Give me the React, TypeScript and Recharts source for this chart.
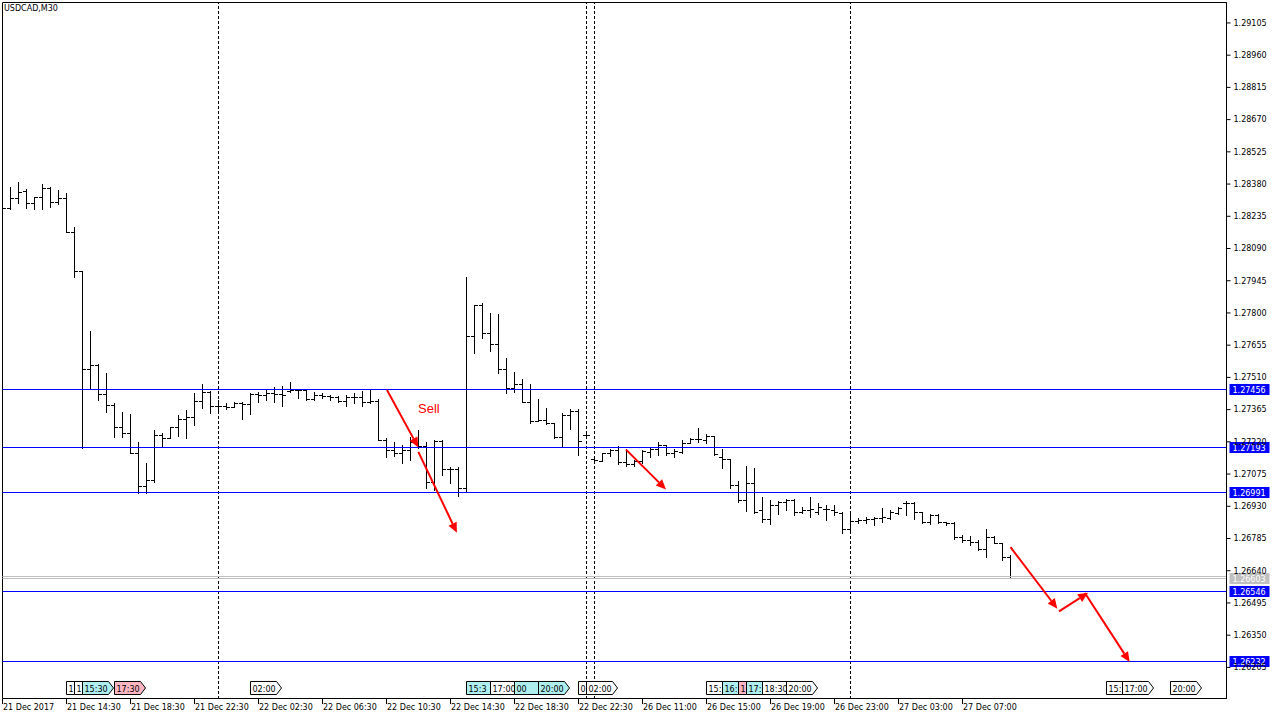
import React from "react";
import { ComposedChart, Bar, XAxis, YAxis, ReferenceLine, ReferenceDot, ReferenceArea } from "recharts";

// USDCAD M30 bars, one entry per bar (index 0 = 21 Dec 10:30)
const OPEN = [
  1.28275, 1.28272, 1.28314, 1.28345, 1.28293, 1.28319, 1.28362, 1.28296, 1.28316, 1.28164,
  1.27987, 1.27545, 1.27564, 1.27432, 1.27384, 1.27286, 1.27257, 1.27169, 1.2702, 1.27047,
  1.27249, 1.27237, 1.27284, 1.2732, 1.27331, 1.27403, 1.27444, 1.27381, 1.2738, 1.27375,
  1.27392, 1.27387, 1.27432, 1.27429, 1.27439, 1.27434, 1.27446, 1.27452, 1.27449, 1.2741,
  1.27429, 1.27425, 1.27419, 1.27403, 1.27421, 1.27418, 1.27399, 1.27403, 1.27227, 1.27182,
  1.27167, 1.27182, 1.27219, 1.272, 1.27036, 1.27222, 1.27095, 1.27095, 1.27009, 1.27696,
  1.27834, 1.27709, 1.27657, 1.27545, 1.27459, 1.27477, 1.27399, 1.27312, 1.27316, 1.27302,
  1.27239, 1.27339, 1.27358, 1.27249, 1.27141, 1.27133, 1.27167, 1.27182, 1.27129, 1.27117,
  1.27133, 1.27174, 1.27185, 1.27204, 1.27167, 1.27174, 1.27212, 1.2723, 1.27227, 1.27245,
  1.2715, 1.2714, 1.27024, 1.26957, 1.27034, 1.26912, 1.2687, 1.26934, 1.26949, 1.26957,
  1.26904, 1.26912, 1.26904, 1.26915, 1.26912, 1.26897, 1.26825, 1.26862, 1.26867, 1.26871,
  1.26874, 1.26874, 1.26899, 1.26944, 1.26944, 1.26904, 1.26859, 1.26889, 1.26859, 1.26854,
  1.26789, 1.26776, 1.26769, 1.26735, 1.26789, 1.26764, 1.26701,
];
const HIGH = [
  1.28289, 1.28366, 1.28388, 1.28355, 1.28321, 1.28377, 1.28366, 1.28351, 1.28337, 1.28184,
  1.27987, 1.27717, 1.27567, 1.27527, 1.27392, 1.27351, 1.27342, 1.27219, 1.27122, 1.27272,
  1.27257, 1.27286, 1.27339, 1.27362, 1.27437, 1.27479, 1.27448, 1.27407, 1.27393, 1.27399,
  1.27396, 1.27437, 1.27444, 1.27456, 1.27466, 1.2747, 1.27486, 1.27455, 1.27452, 1.27444,
  1.27437, 1.27429, 1.27425, 1.27429, 1.27437, 1.27448, 1.27455, 1.2741, 1.27234, 1.27219,
  1.27204, 1.27241, 1.27272, 1.27219, 1.27227, 1.27227, 1.27106, 1.27106, 1.27961, 1.27834,
  1.27842, 1.27797, 1.27794, 1.27594, 1.27531, 1.27501, 1.27479, 1.2741, 1.27369, 1.27304,
  1.27347, 1.27365, 1.27365, 1.27262, 1.27155, 1.27167, 1.27185, 1.272, 1.27185, 1.27137,
  1.27182, 1.27196, 1.27216, 1.27204, 1.27185, 1.27227, 1.27234, 1.27279, 1.27253, 1.27245,
  1.27186, 1.2714, 1.27043, 1.2711, 1.271, 1.26969, 1.26957, 1.26953, 1.2696, 1.2696,
  1.26926, 1.26969, 1.26942, 1.26934, 1.26934, 1.26904, 1.26899, 1.26874, 1.26879, 1.26881,
  1.26919, 1.26912, 1.26926, 1.26953, 1.26949, 1.26904, 1.26894, 1.26894, 1.26859, 1.26856,
  1.26799, 1.26794, 1.26776, 1.26825, 1.26794, 1.26764, 1.26709,
];
const LOW = [
  1.28266, 1.28267, 1.28292, 1.28272, 1.28266, 1.28266, 1.28276, 1.28287, 1.28164, 1.27961,
  1.27189, 1.27455, 1.27407, 1.27354, 1.27241, 1.27241, 1.27167, 1.26989, 1.26989, 1.27039,
  1.272, 1.27234, 1.27245, 1.27237, 1.27294, 1.27369, 1.27349, 1.27362, 1.27366, 1.27374,
  1.2732, 1.27342, 1.27399, 1.27407, 1.27399, 1.2738, 1.27444, 1.27414, 1.27407, 1.27407,
  1.27414, 1.27407, 1.27399, 1.2738, 1.27392, 1.2738, 1.27392, 1.27227, 1.27149, 1.27154,
  1.27122, 1.27137, 1.27189, 1.27009, 1.27001, 1.27069, 1.27032, 1.26975, 1.26992, 1.27619,
  1.27687, 1.27628, 1.27527, 1.27439, 1.27444, 1.27399, 1.27304, 1.2731, 1.27297, 1.27234,
  1.272, 1.27275, 1.27159, 1.2724, 1.27128, 1.27133, 1.27156, 1.27117, 1.27109, 1.27109,
  1.27122, 1.27151, 1.27159, 1.27159, 1.27151, 1.27169, 1.27212, 1.27219, 1.27212, 1.27159,
  1.27099, 1.27009, 1.26949, 1.26908, 1.26899, 1.26859, 1.26848, 1.26894, 1.26912, 1.26889,
  1.26897, 1.26881, 1.26894, 1.26867, 1.26889, 1.26809, 1.26814, 1.26852, 1.26854, 1.26844,
  1.26859, 1.2687, 1.26894, 1.26889, 1.2687, 1.26852, 1.26848, 1.26852, 1.26844, 1.2678,
  1.26769, 1.26754, 1.26731, 1.26699, 1.26762, 1.26686, 1.26603,
];
const CLOSE = [
  1.28272, 1.28314, 1.28341, 1.28293, 1.28319, 1.28362, 1.28296, 1.28316, 1.28164, 1.27987,
  1.27545, 1.27564, 1.27432, 1.27384, 1.27286, 1.27257, 1.27169, 1.2702, 1.27047, 1.27249,
  1.27237, 1.27284, 1.2732, 1.27331, 1.27403, 1.27444, 1.27381, 1.2738, 1.27375, 1.27392,
  1.27387, 1.27432, 1.27429, 1.27439, 1.27434, 1.2743, 1.27452, 1.27449, 1.2741, 1.27429,
  1.27425, 1.27419, 1.27403, 1.27421, 1.27418, 1.27399, 1.27403, 1.27227, 1.27182, 1.27167,
  1.27182, 1.27219, 1.272, 1.27036, 1.27222, 1.27095, 1.27095, 1.27009, 1.27696, 1.27834,
  1.27709, 1.27657, 1.27545, 1.27459, 1.27477, 1.27399, 1.27312, 1.27316, 1.27302, 1.27239,
  1.27339, 1.27358, 1.27222, 1.27249, 1.27137, 1.27167, 1.27182, 1.27129, 1.27117, 1.27133,
  1.27178, 1.27185, 1.27204, 1.27167, 1.27178, 1.27212, 1.2723, 1.2723, 1.27245, 1.27164,
  1.2714, 1.27024, 1.26957, 1.27034, 1.26904, 1.2687, 1.26934, 1.26949, 1.26957, 1.26904,
  1.26912, 1.26915, 1.26926, 1.26915, 1.26904, 1.26825, 1.26862, 1.26867, 1.26871, 1.26874,
  1.26881, 1.26904, 1.26919, 1.26944, 1.26904, 1.26859, 1.26889, 1.26859, 1.26854, 1.26789,
  1.26776, 1.26769, 1.26735, 1.26789, 1.26764, 1.26701, 1.26603,
];

const PRICE_TICKS = [
  1.29105, 1.2896, 1.28815, 1.2867, 1.28525, 1.2838, 1.28235, 1.2809, 1.27945, 1.278, 1.27655,
  1.2751, 1.27365, 1.2722, 1.27075, 1.2693, 1.26785, 1.2664, 1.26495, 1.2635, 1.26205,
];
const TIME_TICKS = [0, 8, 16, 24, 32, 40, 48, 56, 64, 72, 80, 88, 96, 104, 112, 120];
const TIME_LABELS = [
  "21 Dec 2017", "21 Dec 14:30", "21 Dec 18:30", "21 Dec 22:30", "22 Dec 02:30", "22 Dec 06:30",
  "22 Dec 10:30", "22 Dec 14:30", "22 Dec 18:30", "22 Dec 22:30", "26 Dec 11:00", "26 Dec 15:00",
  "26 Dec 19:00", "26 Dec 23:00", "27 Dec 03:00", "27 Dec 07:00",
];

const LEVELS = [1.27456, 1.27193, 1.26991, 1.26546, 1.26232];
const BID = 1.26603;
const ASK = 1.26615;
const SEPARATORS = [27, 73, 74, 106];

// calendar events along the bottom (bar index, visible text, colour kind), drawn in this order
const EVENT_BARS = [8, 9, 10, 14, 31, 58, 61, 64, 67, 72, 73, 88, 90, 92, 93, 95, 98, 138, 140, 146];
const EVENT_TEXTS = [
  "1", "1", "15:30", "17:30", "02:00", "15:3", "17:00", "00", "20:00", "0",
  "02:00", "15:", "16:", "1", "17:", "18:30", "20:00", "15:", "17:00", "20:00",
];
const EVENT_KINDS = [
  "low", "low", "mid", "high", "low", "mid", "low", "mid", "mid", "low",
  "low", "low", "mid", "high", "mid", "low", "low", "low", "low", "low",
];

// drawn arrows (bar index / price)
const ARROW_X1 = [48.06, 51.98, 77.94, 126.0, 132.06, 135.3];
const ARROW_Y1 = [1.27453, 1.27175, 1.27185, 1.26746, 1.26457, 1.2654];
const ARROW_X2 = [51.98, 56.8, 82.94, 131.85, 135.7, 140.9];
const ARROW_Y2 = [1.27195, 1.26811, 1.27006, 1.26469, 1.26541, 1.26229];

const SELL_X = 53.3;
const SELL_Y = 1.2737;

const X_DOMAIN = [0, 153];
const Y_DOMAIN = [1.26065, 1.29197];

const FONT = "'DejaVu Sans', sans-serif";
const EVENT_FILL: Record<string, string> = { low: "#ffffff", mid: "#afeeee", high: "#ffb6c1" };

const bars = OPEN.map((o, i) => ({ i, open: o, high: HIGH[i], low: LOW[i], close: CLOSE[i] }));

const snap = (v: number) => Math.floor(v) + 0.5;

function OhlcShape(props: any) {
  const { x, width, y, height, payload } = props;
  if (x == null || y == null) return null;
  const cx = snap(x + width / 2);
  const top = Math.min(y, y + height);
  const bot = Math.max(y, y + height);
  const span = payload.high - payload.low;
  const toY = (v: number) => (span > 0 ? top + ((payload.high - v) / span) * (bot - top) : top);
  const yo = snap(toY(payload.open));
  const yc = snap(toY(payload.close));
  return (
    <g shapeRendering="crispEdges" stroke="#000" strokeWidth={1}>
      <line x1={cx} y1={Math.floor(top)} x2={cx} y2={Math.floor(bot) + 1} />
      <line x1={cx - 3.5} y1={yo} x2={cx} y2={yo} />
      <line x1={cx} y1={yc} x2={cx + 3.5} y2={yc} />
    </g>
  );
}

function TimeTick(props: any) {
  const { x, y, payload } = props;
  const px = snap(x);
  const label = TIME_LABELS[TIME_TICKS.indexOf(payload.value)];
  return (
    <g>
      <line x1={px} y1={y} x2={px} y2={y + 5} stroke="#000" shapeRendering="crispEdges" />
      <text x={px + 0.5} y={y + 11} fontSize={8} fontFamily={FONT} fill="#000">
        {label}
      </text>
    </g>
  );
}

// horizontal level line, one pixel row tall
function hLine(color: string) {
  return (p: any) => {
    if (p.y1 == null) return null;
    const row = Math.floor(p.y1);
    const left = Math.min(p.x1, p.x2);
    return <rect x={left} y={row} width={Math.abs(p.x2 - p.x1)} height={1} fill={color} />;
  };
}

function priceTag(value: number, fill: string) {
  return (props: any) => {
    const vb = props.viewBox || {};
    const left = vb.x + vb.width + 3;
    const top = Math.floor(vb.y) - 5;
    return (
      <g>
        <rect x={left} y={top} width={40} height={11} fill={fill} />
        <text x={left + 3} y={top + 9} fontSize={8} fontFamily={FONT} fill="#fff">
          {value.toFixed(5)}
        </text>
      </g>
    );
  };
}

function eventShape(k: number) {
  return (p: any) => {
    if (p.x1 == null) return null;
    const px = snap(p.x1);
    const bottom = Math.floor(Math.max(p.y1, p.y2)) - 3.5;
    const top = bottom - 13;
    const w = 26;
    const mid = (top + bottom) / 2;
    return (
      <g>
        <path
          d={`M${px},${top} H${px + w} L${px + w + 5},${mid} L${px + w},${bottom} H${px} Z`}
          fill={EVENT_FILL[EVENT_KINDS[k]]}
          stroke="#000"
          strokeWidth={1}
        />
        <text x={px + 2} y={bottom - 3} fontSize={8} fontFamily={FONT} fill="#000">
          {EVENT_TEXTS[k]}
        </text>
      </g>
    );
  };
}

function ArrowShape(p: any) {
  const { x1, y1, x2, y2 } = p;
  if (x1 == null) return null;
  const dx = x2 - x1;
  const dy = y2 - y1;
  const len = Math.sqrt(dx * dx + dy * dy) || 1;
  const ux = dx / len;
  const uy = dy / len;
  const hl = 10;
  const hw = 4.5;
  const bx = x2 - ux * hl;
  const by = y2 - uy * hl;
  return (
    <g>
      <line x1={x1} y1={y1} x2={bx} y2={by} stroke="#ff0000" strokeWidth={2} />
      <polygon
        points={`${x2},${y2} ${bx - uy * hw},${by + ux * hw} ${bx + uy * hw},${by - ux * hw}`}
        fill="#ff0000"
      />
    </g>
  );
}

export default function App() {
  return (
    <div style={{ position: "absolute", left: 0, top: 0, width: 1280, height: 720, background: "#fff" }}>
      <ComposedChart
        width={1280}
        height={720}
        data={bars}
        margin={{ top: 2.5, right: 0, bottom: 0, left: 2.5 }}
      >
        <XAxis
          xAxisId="t"
          dataKey="i"
          type="number"
          domain={X_DOMAIN}
          allowDataOverflow
          ticks={TIME_TICKS}
          interval={0}
          height={21.5}
          tickSize={0}
          tickMargin={0}
          tickLine={false}
          axisLine={{ stroke: "#000" }}
          tick={<TimeTick />}
        />
        <YAxis
          yAxisId="p"
          orientation="right"
          type="number"
          domain={Y_DOMAIN}
          allowDataOverflow
          ticks={PRICE_TICKS}
          interval={0}
          width={53.5}
          tickSize={4}
          tickMargin={3}
          axisLine={{ stroke: "#000" }}
          tickLine={{ stroke: "#000" }}
          tick={{ fontSize: 8, fontFamily: FONT, fill: "#000" }}
          tickFormatter={(v: number) => v.toFixed(5)}
        />

        {/* chart frame */}
        <ReferenceArea
          xAxisId="t"
          yAxisId="p"
          x1={X_DOMAIN[0]}
          x2={X_DOMAIN[1]}
          y1={Y_DOMAIN[0]}
          y2={Y_DOMAIN[1]}
          fill="none"
          fillOpacity={0}
          stroke="#000"
          strokeOpacity={1}
          ifOverflow="visible"
        />

        {SEPARATORS.map((s) => (
          <ReferenceLine
            key={`sep${s}`}
            xAxisId="t"
            yAxisId="p"
            x={s}
            stroke="#000"
            strokeDasharray="3 2"
            shapeRendering="crispEdges"
          />
        ))}

        <Bar
          xAxisId="t"
          yAxisId="p"
          dataKey={(d: any) => [d.low, d.high]}
          barSize={1}
          shape={OhlcShape}
          isAnimationActive={false}
        />

        <ReferenceLine xAxisId="t" yAxisId="p" y={ASK} stroke="#c0c0c0" shape={hLine("#c0c0c0")} />
        <ReferenceLine
          xAxisId="t"
          yAxisId="p"
          y={BID}
          stroke="#c0c0c0"
          shape={hLine("#c0c0c0")}
          label={priceTag(BID, "#c0c0c0")}
        />
        {LEVELS.map((v) => (
          <ReferenceLine
            key={`lvl${v}`}
            xAxisId="t"
            yAxisId="p"
            y={v}
            stroke="#0000ff"
            shape={hLine("#0000ff")}
            label={priceTag(v, "#0000ff")}
          />
        ))}

        {EVENT_BARS.map((b, k) => (
          <ReferenceLine key={`ev${k}`} xAxisId="t" yAxisId="p" x={b} shape={eventShape(k)} ifOverflow="visible" />
        ))}

        {ARROW_X1.map((x, k) => (
          <ReferenceLine
            key={`ar${k}`}
            xAxisId="t"
            yAxisId="p"
            segment={[
              { x, y: ARROW_Y1[k] },
              { x: ARROW_X2[k], y: ARROW_Y2[k] },
            ]}
            ifOverflow="visible"
            shape={ArrowShape}
          />
        ))}

        <ReferenceDot
          xAxisId="t"
          yAxisId="p"
          x={SELL_X}
          y={SELL_Y}
          r={0}
          fill="none"
          stroke="none"
          label={{ value: "Sell", position: "center", fill: "#ff0000", fontSize: 13, fontFamily: "'Liberation Sans', Arial, sans-serif" }}
        />
      </ComposedChart>
      <div
        style={{
          position: "absolute",
          left: 4,
          top: 3,
          fontFamily: FONT,
          fontSize: 8,
          lineHeight: "12px",
          color: "#000",
        }}
      >
        USDCAD,M30
      </div>
    </div>
  );
}
